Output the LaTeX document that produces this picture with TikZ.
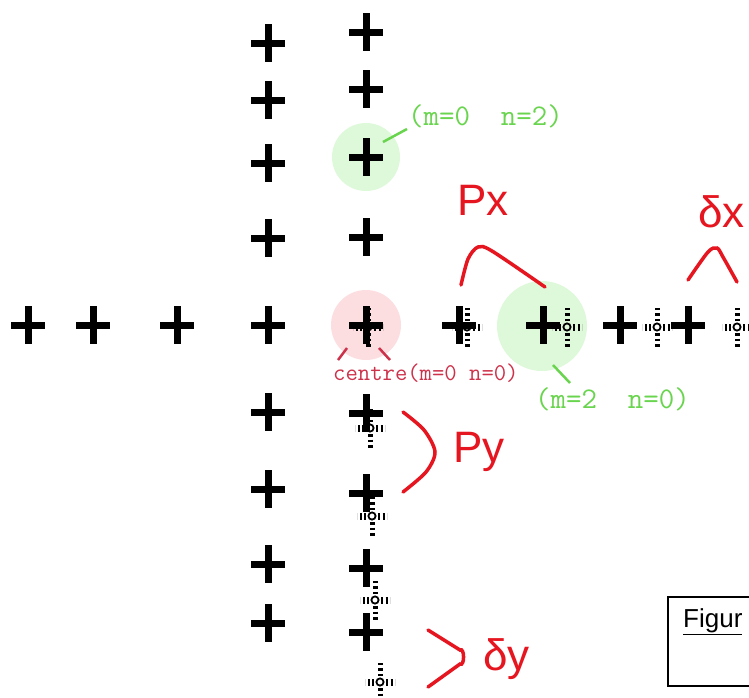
\documentclass[tikz,border=0pt]{standalone}
\usepackage{fontspec}
\newfontfamily\labelfont{Liberation Sans}
\definecolor{markred}{RGB}{230,22,32}
\definecolor{centrered}{RGB}{205,50,75}
\definecolor{pinkfill}{RGB}{252,222,224}
\definecolor{greenfill}{RGB}{222,248,218}
\definecolor{greentext}{RGB}{105,212,78}
\tikzset{
  plus/.pic={\draw[line width=7pt] (-17,0) -- (17,0) (0,-19) -- (0,19);},
  dotplus/.pic={
    \draw[line width=7pt, dash pattern=on 2pt off 2.5pt] (-6,0) -- (-15,0) (6,0) -- (15,0);
    \draw[line width=5pt, dash pattern=on 2.5pt off 3pt] (0,-6) -- (0,-22) (0,6) -- (0,22);
    \draw[line width=1.8pt] (0,0) circle[radius=3.6pt];},
  bracket/.style={markred, line width=3.5pt, line cap=round},
  bigtext/.style={markred, inner sep=0pt, anchor=base west, font=\labelfont\fontsize{44}{44}\selectfont},
  greenlabel/.style={greentext, inner sep=0pt, anchor=base west, font=\ttfamily\fontsize{30}{30}\selectfont},
  leader/.style={line width=2.5pt}
}
\begin{document}
\begin{tikzpicture}[x=1pt,y=-1pt]
  \useasboundingbox (0,0) rectangle (749,697);
  \clip (0,0) rectangle (749,697);
  % highlighted points
  \fill[pinkfill] (366,325) circle[radius=35pt];
  \fill[greenfill] (366,157) circle[radius=34pt];
  \fill[greenfill] (542,326) circle[radius=45pt];
  % left column of crosses
  \foreach \y in {43,100,163,238,325,412,489,564,623}
    \pic at (268,\y) {plus};
  % right column of crosses
  \foreach \y in {32,89,157,237,325,413,493,568,632}
    \pic at (366,\y) {plus};
  % row of crosses
  \foreach \x in {28,93,177,459,543,620,688}
    \pic at (\x,325) {plus};
  % shifted (dotted) crosses
  \foreach \x in {368,467,567,657,737}
    \pic at (\x,327) {dotplus};
  \foreach \x/\y in {370/428,372/516,375/600,380/682}
    \pic at (\x,\y) {dotplus};
  % labels of the points
  \node[greenlabel] (lbltop) at (408,125) {(m=0\ \ n=2)};
  \node[greenlabel] (lblright) at (535,408) {(m=2\ \ n=0)};
  \node[centrered, inner sep=0pt, anchor=base west, font=\ttfamily\fontsize{24}{24}\selectfont] (lblcentre) at (333,380) {centre(m=0\ n=0)};
  \coordinate (toptip) at (383,142);
  \coordinate (topend) at (407,129);
  \coordinate (righttip) at (553,365);
  \coordinate (rightend) at (570,383);
  \draw[greentext, leader] (toptip) -- (topend);
  \draw[greentext, leader] (righttip) -- (rightend);
  \draw[centrered, leader] (338,360) -- (347,348);
  \draw[centrered, leader] (379,348) -- (390,360);
  % pitch and shift brackets
  \draw[bracket] plot[smooth] coordinates {(461,285) (468,259) (478,247) (492,251) (545,287)};
  \draw[bracket] plot[smooth] coordinates {(688,280) (708,252) (717,248) (723,257) (737,282)};
  \draw[bracket] plot[smooth] coordinates {(403,412) (424,430) (435,452) (426,472) (403,492)};
  \draw[bracket] (428,630) -- (460,650) to[out=30,in=-30] (460,664) -- (428,687);
  \node[bigtext] (px) at (457,215) {Px};
  \node[bigtext] (dx) at (698,227) {δx};
  \node[bigtext] (py) at (453,462) {Py};
  \node[bigtext] (dy) at (483,670) {δy};
  % caption box
  \draw[line width=2pt] (668,597) rectangle (760,686);
  \node[inner sep=0pt, anchor=base west, font=\labelfont\fontsize{26}{26}\selectfont] (caption) at (683,627) {\underline{Figur}};
\end{tikzpicture}
\end{document}
